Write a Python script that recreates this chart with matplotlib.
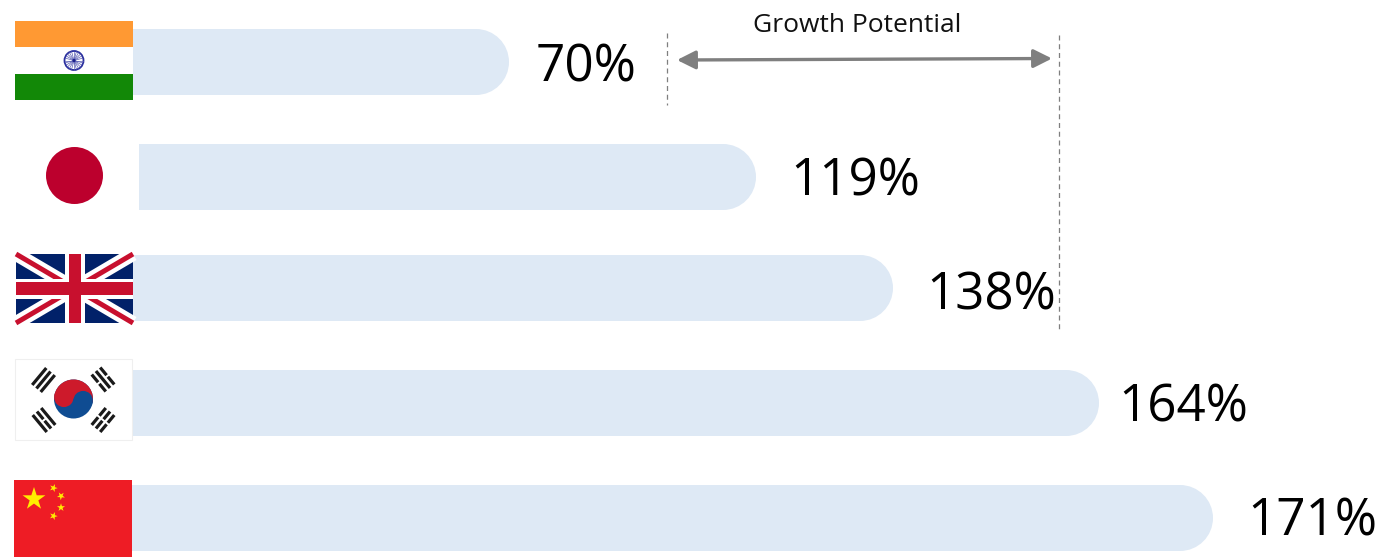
import numpy as np
import matplotlib
matplotlib.use("Agg")
import matplotlib.pyplot as plt
from matplotlib.patches import Circle, PathPatch, Polygon, Rectangle, Wedge
from matplotlib.path import Path

plt.rcParams['font.family'] = ['Open Sans', 'DejaVu Sans']

# the bars are not to scale in the original, so lengths are read off the picture
countries = ["India", "Japan", "UK", "Korea", "China"]
labels = ["70%", "119%", "138%", "164%", "171%"]
bar_start = [133, 139, 133, 132, 132]
bar_end = [509, 756, 893, 1099, 1213]
bar_top = [29, 144, 255, 370, 485]
label_x = [536, 790, 926, 1118, 1247]
label_base = [81, 195, 310, 421, 536]

BAR_H = 66
BAR_COLOR = "#DEE9F5"
GRAY = "#7F7F7F"

fig = plt.figure(figsize=(13.84, 5.57), dpi=100)
ax = fig.add_axes([0, 0, 1, 1])
ax.set_xlim(0, 1384)
ax.set_ylim(557, 0)
ax.axis("off")


def round_bar(x0, x1, y0, h, r):
    k = 0.5523 * r
    y1 = y0 + h
    verts = [(x0, y0), (x1 - r, y0), (x1 - r + k, y0), (x1, y0 + r - k), (x1, y0 + r),
             (x1, y1 - r), (x1, y1 - r + k), (x1 - r + k, y1), (x1 - r, y1), (x0, y1), (x0, y0)]
    codes = [Path.MOVETO, Path.LINETO, Path.CURVE4, Path.CURVE4, Path.CURVE4,
             Path.LINETO, Path.CURVE4, Path.CURVE4, Path.CURVE4, Path.LINETO, Path.CLOSEPOLY]
    return PathPatch(Path(verts, codes), fc=BAR_COLOR, ec="none")


def star(cx, cy, r, rot=0):
    ang = np.radians(-90 + rot + np.arange(10) * 36)
    rad = np.where(np.arange(10) % 2 == 0, r, r * 0.382)
    return Polygon(np.c_[cx + rad * np.cos(ang), cy + rad * np.sin(ang)], fc="#FFED00", ec="none", zorder=3)


def india():
    ax.add_patch(Rectangle((15, 21), 118, 26, fc="#FF9933", ec="none"))
    ax.add_patch(Rectangle((15, 74), 118, 26, fc="#128807", ec="none"))
    ax.add_patch(Circle((74, 60.5), 9.5, fc="none", ec="#2A2F9E", lw=1.3))
    for a in np.radians(np.arange(0, 360, 15)):
        ax.plot([74, 74 + 9 * np.cos(a)], [60.5, 60.5 + 9 * np.sin(a)], color="#5C60B5", lw=0.5)
    ax.add_patch(Circle((74, 60.5), 1.6, fc="#1B1F8A", ec="none", zorder=3))


def japan():
    ax.add_patch(Circle((74.5, 175.5), 28.5, fc="#BC002D", ec="none"))


def uk():
    x0, y0, w, h = 16, 254, 117, 69
    clip = Rectangle((x0, y0), w, h, transform=ax.transData)
    ax.add_patch(Rectangle((x0, y0), w, h, fc="#012169", ec="none"))
    x1, y1 = x0 + w, y0 + h
    for (a, b, c, d) in [(x0, y0, x1, y1), (x0, y1, x1, y0)]:
        ax.plot([a, c], [b, d], color="white", lw=10, solid_capstyle="butt", clip_path=clip)
        ax.plot([a, c], [b, d], color="#C8102E", lw=3.6, solid_capstyle="butt", clip_path=clip)
    cx, cy = 75, 288.5
    ax.add_patch(Rectangle((cx - 10, y0), 20, h, fc="white", ec="none", zorder=2))
    ax.add_patch(Rectangle((x0, cy - 10), w, 20, fc="white", ec="none", zorder=2))
    ax.add_patch(Rectangle((cx - 6, y0), 12, h, fc="#C8102E", ec="none", zorder=2))
    ax.add_patch(Rectangle((x0, cy - 6.5), w, 13, fc="#C8102E", ec="none", zorder=2))


def korea():
    ax.add_patch(Rectangle((15, 359), 117, 81, fc="white", ec="#EFEFEF", lw=0.8))
    cx, cy, r = 73.5, 399, 19.5
    tilt = 10
    t = np.radians(tilt)
    ax.add_patch(Circle((cx, cy), r, fc="#0F4C92", ec="none", zorder=2))
    ax.add_patch(Wedge((cx, cy), r, 180 + tilt, 360 + tilt, fc="#CD1A2B", ec="none", zorder=2))
    ax.add_patch(Circle((cx - r / 2 * np.cos(t), cy - r / 2 * np.sin(t)), r / 2, fc="#CD1A2B", ec="none", zorder=3))
    ax.add_patch(Circle((cx + r / 2 * np.cos(t), cy + r / 2 * np.sin(t)), r / 2, fc="#0F4C92", ec="none", zorder=3))
    # trigrams, True means the bar is broken in the middle
    trigrams = [(43.5, 380, 0.64, -0.77, (False, False, False)),
                (103, 379.5, 0.64, 0.77, (True, False, True)),
                (44, 420, 0.64, 0.77, (False, True, False)),
                (103, 420, 0.64, -0.77, (True, True, True))]
    for tx, ty, ux, uy, broken in trigrams:
        nx, ny = -uy, ux
        for k, gap in zip((-1, 0, 1), broken):
            mx, my = tx + nx * k * 5.5, ty + ny * k * 5.5
            spans = [(-11, -1), (1, 11)] if gap else [(-11, 11)]
            for s0, s1 in spans:
                ax.plot([mx + ux * s0, mx + ux * s1], [my + uy * s0, my + uy * s1],
                        color="#1A1A1A", lw=2.3, solid_capstyle="butt")


def china():
    ax.add_patch(Rectangle((14, 480), 118, 77, fc="#EE1C25", ec="none"))
    ax.add_patch(star(34, 499, 12))
    for sx, sy, rot in [(53.5, 488, 20), (61, 496, 40), (61, 507.5, 0), (53.5, 516, 20)]:
        ax.add_patch(star(sx, sy, 4.2, rot))


for i in range(len(countries)):
    ax.add_patch(round_bar(bar_start[i], bar_end[i], bar_top[i], BAR_H, 33))
    ax.text(label_x[i], label_base[i], labels[i], fontsize=36.8, color="black", ha="left", va="baseline")

for draw_flag in [india, japan, uk, korea, china]:
    draw_flag()

# growth potential annotation
ax.plot([666.5, 666.5], [33, 105], color=GRAY, lw=0.9, dashes=(4, 3))
ax.plot([1059, 1059], [35, 331], color=GRAY, lw=0.9, dashes=(4, 3))
ax.annotate("", xy=(677, 60), xytext=(1052, 58.5),
            arrowprops=dict(arrowstyle="<|-|>,head_length=0.8,head_width=0.4", color=GRAY, lw=2.4,
                            shrinkA=0, shrinkB=0, mutation_scale=14))
ax.text(857, 32, "Growth Potential", fontsize=19, color="#111111", ha="center", va="baseline")

fig.savefig("out.png", dpi=100)
